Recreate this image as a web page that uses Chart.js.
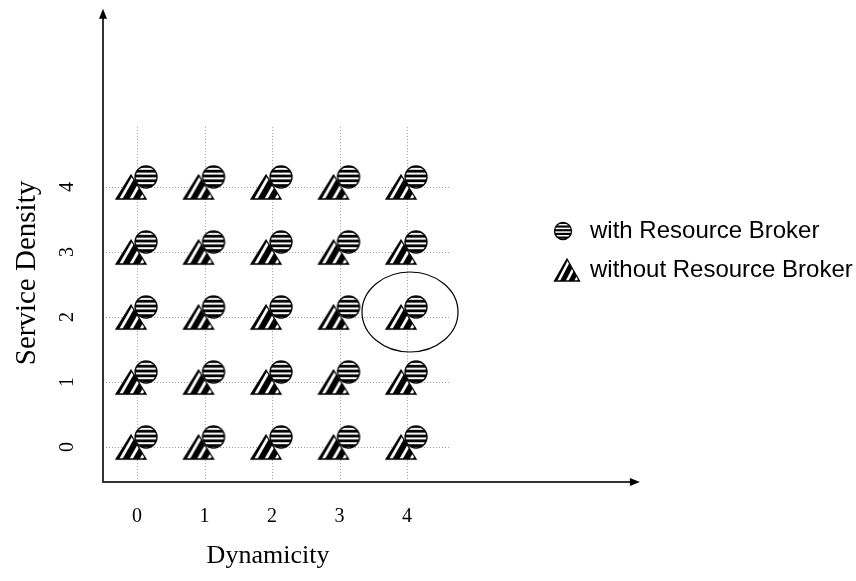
<!DOCTYPE html>
<html>
<head>
<meta charset="utf-8">
<script src="https://cdn.jsdelivr.net/npm/chart.js@4.4.1/dist/chart.umd.min.js"></script>
<style>
  html, body { margin: 0; padding: 0; background: #fff; }
  #wrap { width: 856px; height: 581px; }
</style>
</head>
<body>
<div id="wrap"><canvas id="myChart"></canvas></div>
<script>
/*data*/
const dynamicity = [0, 1, 2, 3, 4];
const serviceDensity = [0, 1, 2, 3, 4];
const seriesLabels = ['with Resource Broker', 'without Resource Broker'];
const highlighted = {x: 4, y: 2};
const xTitle = 'Dynamicity';
const yTitle = 'Service Density';

// every dynamicity / density combination was measured for both set-ups
let points = [];
serviceDensity.forEach(d => dynamicity.forEach(v => points.push({x: v, y: d})));

/*markers*/
function stripedCircle(ctx, cx, cy, r){
  ctx.save();
  ctx.beginPath();
  ctx.arc(cx, cy, r, 0, Math.PI * 2);
  ctx.fillStyle = '#fff';
  ctx.fill();
  ctx.clip();
  ctx.fillStyle = '#000';
  let step = r * 2 / 4.6;
  for (let yy = cy - r - step * 0.2; yy < cy + r; yy += step) ctx.fillRect(cx - r, yy, r * 2, step * 0.58);
  ctx.restore();
  ctx.beginPath();
  ctx.arc(cx, cy, r, 0, Math.PI * 2);
  ctx.lineWidth = 1.3;
  ctx.strokeStyle = '#000';
  ctx.stroke();
}

function stripedTriangle(ctx, cx, cy, w, h){
  const path = () => {
    ctx.beginPath();
    ctx.moveTo(cx, cy - h / 2);
    ctx.lineTo(cx + w / 2, cy + h / 2);
    ctx.lineTo(cx - w / 2, cy + h / 2);
    ctx.closePath();
  };
  ctx.save();
  path();
  ctx.fillStyle = '#fff';
  ctx.fill();
  ctx.clip();
  ctx.strokeStyle = '#000';
  ctx.lineWidth = w * 0.2;
  for (let k = -w * 0.05; k < w; k += w * 0.34) {
    ctx.beginPath();
    ctx.moveTo(cx - w / 2 + k, cy + h / 2 + 2);
    ctx.lineTo(cx + k + 1, cy - h / 2 - 2);
    ctx.stroke();
  }
  ctx.restore();
  path();
  ctx.lineWidth = 1.3;
  ctx.strokeStyle = '#000';
  ctx.stroke();
}

const makeMark = (size, draw) => {
  const c = document.createElement('canvas');
  c.width = size; c.height = size;
  draw(c.getContext('2d'), size / 2);
  return c;
};
// circle sits up-right of the grid point, triangle left of it
const circleMark = makeMark(46, (c, m) => stripedCircle(c, m + 9, m - 10, 11));
const triangleMark = makeMark(46, (c, m) => stripedTriangle(c, m - 6, m, 30, 24));

/*decorations: dotted grid, arrow axes, highlight ellipse, legend*/
const decor = {
  id: 'decor',
  beforeDatasetsDraw(chart){
    const {ctx, scales: {x, y}} = chart;
    ctx.save();
    ctx.strokeStyle = '#999';
    ctx.lineWidth = 1;
    ctx.setLineDash([1, 2]);
    dynamicity.forEach(v => {
      const px = Math.round(x.getPixelForValue(v)) + 0.5;
      ctx.beginPath();
      ctx.moveTo(px, y.getPixelForValue(4.92));
      ctx.lineTo(px, y.bottom);
      ctx.stroke();
    });
    serviceDensity.forEach(v => {
      const py = Math.round(y.getPixelForValue(v)) + 0.5;
      ctx.beginPath();
      ctx.moveTo(x.left, py);
      ctx.lineTo(x.getPixelForValue(4.62), py);
      ctx.stroke();
    });
    ctx.restore();

    // axes with arrow heads
    const x0 = x.left, y0 = y.bottom;
    const xEnd = x.getPixelForValue(7.45), yEnd = y.getPixelForValue(6.74);
    ctx.save();
    ctx.strokeStyle = '#333';
    ctx.lineWidth = 2;
    ctx.beginPath();
    ctx.moveTo(x0, y0);
    ctx.lineTo(x0, yEnd + 8);
    ctx.moveTo(x0 - 1, y0);
    ctx.lineTo(xEnd - 8, y0);
    ctx.stroke();
    ctx.fillStyle = '#000';
    ctx.beginPath();
    ctx.moveTo(x0, yEnd);
    ctx.lineTo(x0 + 4, yEnd + 10);
    ctx.lineTo(x0 - 4, yEnd + 10);
    ctx.closePath();
    ctx.fill();
    ctx.beginPath();
    ctx.moveTo(xEnd, y0);
    ctx.lineTo(xEnd - 10, y0 - 4);
    ctx.lineTo(xEnd - 10, y0 + 4);
    ctx.closePath();
    ctx.fill();
    ctx.restore();
  },
  afterDraw(chart){
    const {ctx, scales: {x, y}} = chart;
    ctx.save();
    ctx.strokeStyle = '#000';
    ctx.lineWidth = 1.2;
    ctx.beginPath();
    ctx.ellipse(x.getPixelForValue(highlighted.x) + 3, y.getPixelForValue(highlighted.y) - 5, 48, 40, 0, 0, Math.PI * 2);
    ctx.stroke();

    // legend
    stripedCircle(ctx, 563, 231, 8.5);
    stripedTriangle(ctx, 567, 270, 25, 22);
    ctx.fillStyle = '#000';
    ctx.font = '24px "Liberation Sans", Arial, sans-serif';
    ctx.textBaseline = 'middle';
    ctx.textAlign = 'left';
    ctx.fillText(chart.data.datasets[0].label, 590, 231);
    ctx.fillText(chart.data.datasets[1].label, 590, 270);
    ctx.restore();
  }
};

const serif = 'Liberation Serif';
var ctx = document.getElementById('myChart').getContext('2d');
var myChart = new Chart(ctx, {
  type: 'scatter',
  data: {
    datasets: [
      {label: seriesLabels[0], data: points, pointStyle: circleMark, pointRadius: 11},
      {label: seriesLabels[1], data: points, pointStyle: triangleMark, pointRadius: 11}
    ]
  },
  options: {
    responsive: true,
    maintainAspectRatio: false,
    animation: false,
    events: [],
    layout: {padding: {top: 64, right: 423, left: 0, bottom: 0}},
    plugins: {legend: {display: false}, tooltip: {enabled: false}},
    scales: {
      x: {
        type: 'linear', min: -0.504, max: 4.385,
        afterBuildTicks: s => { s.ticks = dynamicity.map(v => ({value: v})); },
        afterFit: s => { s.height = 99; },
        grid: {display: false, drawTicks: false},
        border: {display: false},
        ticks: {padding: 23, color: '#000', font: {family: serif, size: 20}, autoSkip: false, maxRotation: 0},
        title: {display: true, text: xTitle, color: '#000', font: {family: serif, size: 26}, padding: {top: 0, bottom: 9}}
      },
      y: {
        type: 'linear', min: -0.538, max: 5.892,
        afterBuildTicks: s => { s.ticks = serviceDensity.map(v => ({value: v})); },
        afterFit: s => { s.width = 103; },
        grid: {display: false, drawTicks: false},
        border: {display: false},
        ticks: {padding: 30, color: '#000', font: {family: serif, size: 20}, minRotation: 90, maxRotation: 90, crossAlign: 'center'},
        title: {display: true, text: yTitle, color: '#000', font: {family: serif, size: 29}, padding: {top: 10, bottom: 0}}
      }
    }
  },
  plugins: [decor]
});
</script>
</body>
</html>
